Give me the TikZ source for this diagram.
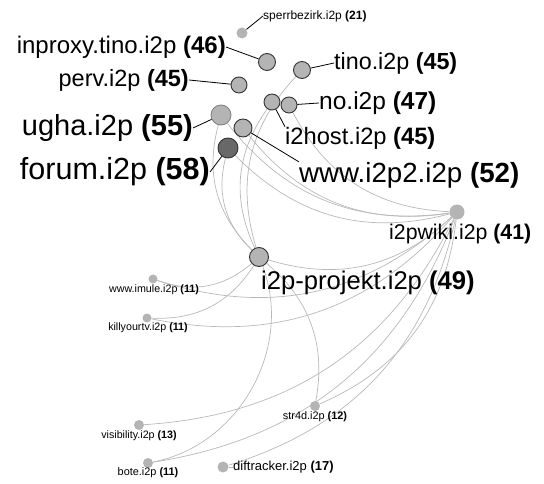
\documentclass[tikz,border=0pt]{standalone}
\usepackage{fontspec}
\setmainfont{Liberation Sans}
\usetikzlibrary{backgrounds}
\definecolor{nodegray}{HTML}{B4B4B4}
\definecolor{darknode}{HTML}{686868}
\definecolor{ringgray}{HTML}{858585}
\definecolor{rimdark}{HTML}{333333}
\definecolor{linkgray}{HTML}{B8B8B8}
\newcommand{\hits}[2]{#1 \textbf{(#2)}}

\begin{document}
\begin{tikzpicture}[x=1pt,y=-1pt,
  site/.style={circle,inner sep=0pt,minimum size=#1,fill=nodegray},
  hub/.style={site=#1,draw=rimdark,line width=0.9pt},
  tag/.style={inner sep=0pt,font=\fontsize{#1}{#1}\selectfont},
  link/.style={color=linkgray,line width=0.7pt,bend left=30},
  lead/.style={line width=0.8pt}]
\useasboundingbox (0,0) rectangle (544,484);

\node[site=11] (sperr) at (242,33) {};
\node[hub=17] (inpx) at (267,62) {};
\node[hub=16] (perv) at (239,85) {};
\node[hub=17] (tino) at (302,70) {};
\node[hub=16] (host) at (272,102) {};
\node[hub=16] (no) at (289,105) {};
\node[site=20,draw=ringgray,line width=0.9pt] (ugha) at (221,115) {};
\node[hub=18] (www) at (243,128) {};
\node[hub=20,fill=darknode] (forum) at (228,148) {};
\node[site=15] (wiki) at (457,212) {};
\node[hub=19] (proj) at (259,257) {};
\node[site=9] (imule) at (153,279) {};
\node[site=9] (kyt) at (147,318) {};
\node[site=10] (vis) at (139,425) {};
\node[site=10] (bote) at (148,463) {};
\node[site=11] (dift) at (223,467) {};
\node[site=10] (str4d) at (315,406) {};

\begin{pgfonlayer}{background}
\path[link]
(proj) edge (ugha)
       edge (forum)
       edge (host)
       edge (tino)
       edge (imule)
       edge (kyt)
       edge[bend left=50] (bote)
       edge (str4d)
(wiki) edge (proj)
       edge (ugha)
       edge (forum)
       edge (www)
       edge (no)
       edge (imule)
       edge (kyt)
       edge (vis)
       edge (bote)
       edge (dift)
       edge (str4d);
\end{pgfonlayer}

\node[tag=12,anchor=west] (sperrL) at (263,16) {\hits{sperrbezirk.i2p}{21}};
\node[tag=24,anchor=east] (inpxL) at (226,47) {\hits{inproxy.tino.i2p}{46}};
\node[tag=23.5,anchor=east] (pervL) at (189,80) {\hits{perv.i2p}{45}};
\node[tag=29,anchor=east] (ughaL) at (193,128) {\hits{ugha.i2p}{55}};
\node[tag=30.5,anchor=east] (forumL) at (210,172) {\hits{forum.i2p}{58}};
\node[tag=23.3,anchor=west] (tinoL) at (334,63) {\hits{tino.i2p}{45}};
\node[tag=24.5,anchor=west] (noL) at (319,103) {\hits{no.i2p}{47}};
\node[tag=23.7,anchor=west] (hostL) at (285,138) {\hits{i2host.i2p}{45}};
\node[tag=27.7,anchor=west] (wwwL) at (299,175) {\hits{www.i2p2.i2p}{52}};
\node[tag=21.3,anchor=west] (wikiL) at (389,234) {\hits{i2pwiki.i2p}{41}};
\node[tag=25.6,anchor=west] (projL) at (261,283) {\hits{i2p-projekt.i2p}{49}};
\node[tag=10.7] (imuleL) at (154,290) {\hits{www.imule.i2p}{11}};
\node[tag=10.7] (kytL) at (148,328) {\hits{killyourtv.i2p}{11}};
\node[tag=10.7] (visL) at (139,436) {\hits{visibility.i2p}{13}};
\node[tag=10.9] (boteL) at (148,473) {\hits{bote.i2p}{11}};
\node[tag=10.9] (str4dL) at (315,417) {\hits{str4d.i2p}{12}};
\node[tag=13,anchor=west] (diftL) at (233,467) {\hits{diftracker.i2p}{17}};

\draw[lead] (sperr) -- (sperrL.west);
\draw[lead] (inpx) -- (inpxL.east);
\draw[lead] (perv) -- (pervL.east);
\draw[lead] (ugha) -- (ughaL.east);
\draw[lead] (forum) -- (forumL.east);
\draw[lead] (tino) -- (tinoL.west);
\draw[lead] (no) -- (noL.west);
\draw[lead] (host) -- (hostL.north west);
\draw[lead] (www) -- (wwwL.north west);
\draw[lead,linkgray] (dift) -- (diftL.west);
\end{tikzpicture}
\end{document}
